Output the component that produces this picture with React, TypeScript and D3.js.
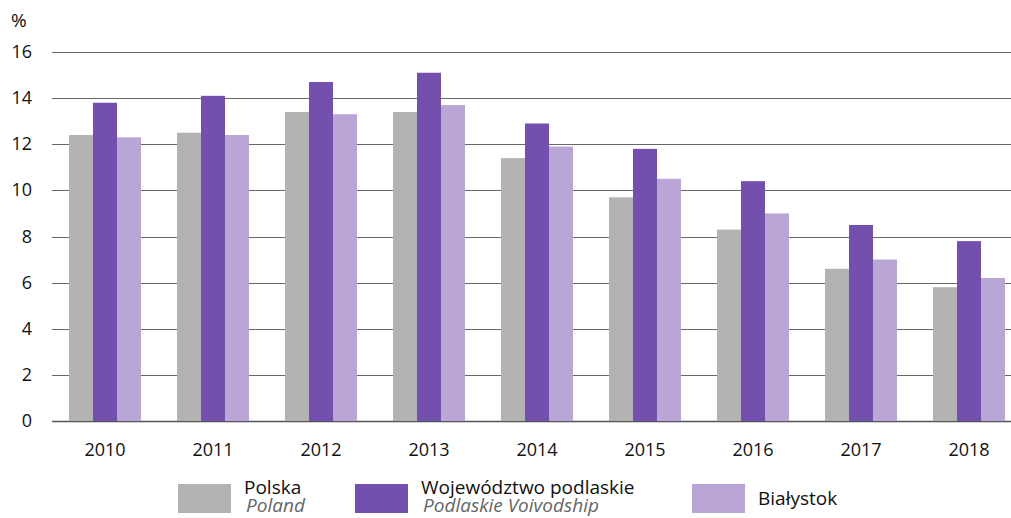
import React, { useEffect, useRef } from 'react';
import * as d3 from 'd3';

const years = ['2010', '2011', '2012', '2013', '2014', '2015', '2016', '2017', '2018'];
const polska = [12.4, 12.5, 13.4, 13.4, 11.4, 9.7, 8.3, 6.6, 5.8];
const podlaskie = [13.8, 14.1, 14.7, 15.1, 12.9, 11.8, 10.4, 8.5, 7.8];
const bialystok = [12.3, 12.4, 13.3, 13.7, 11.9, 10.5, 9.0, 7.0, 6.2];
const yTicks = [0, 2, 4, 6, 8, 10, 12, 14, 16];

const seriesNames = ['Polska', 'Województwo podlaskie', 'Białystok'];
const seriesNamesEn = ['Poland', 'Podlaskie Voivodship', ''];
const colors = ['#b3b3b3', '#7350ad', '#b9a6d6'];

const App = () => {
  const ref = useRef<SVGSVGElement>(null);

  useEffect(() => {
    const svg = d3.select(ref.current);
    svg.selectAll('*').remove();
    const font = "'Open Sans', 'Noto Sans', sans-serif";

    const x = d3.scaleBand().domain(years).range([51, 1023]).paddingInner(0.3334).paddingOuter(0.1667);
    const y = d3.scaleLinear().domain([0, 16]).range([421, 52]);
    const x1 = d3.scaleBand().domain(['0', '1', '2']).range([0, x.bandwidth()]);

    // gridlines
    svg.append('g')
      .selectAll('line')
      .data(yTicks)
      .enter()
      .append('line')
      .attr('x1', 52)
      .attr('x2', 1011)
      .attr('y1', d => Math.round(y(d)) + 0.5)
      .attr('y2', d => Math.round(y(d)) + 0.5)
      .attr('stroke', d => (d === 0 ? '#555' : '#666'))
      .attr('stroke-width', d => (d === 0 ? 1.5 : 1));

    // y labels
    svg.append('g')
      .selectAll('text')
      .data(yTicks)
      .enter()
      .append('text')
      .attr('x', 32)
      .attr('y', d => y(d) + 6)
      .attr('text-anchor', 'end')
      .attr('font-family', font)
      .attr('font-size', 18)
      .attr('fill', '#111')
      .text(d => d);

    svg.append('text')
      .attr('x', 11)
      .attr('y', 27)
      .attr('font-family', font)
      .attr('font-size', 19)
      .attr('fill', '#111')
      .text('%');

    const series = [polska, podlaskie, bialystok];
    const groups = svg.append('g')
      .selectAll('g')
      .data(years)
      .enter()
      .append('g')
      .attr('transform', d => `translate(${x(d)},0)`);

    groups.selectAll('rect')
      .data((d, i) => series.map((s, k) => ({ k, v: s[i] })))
      .enter()
      .append('rect')
      .attr('x', d => x1(String(d.k)) as number)
      .attr('width', x1.bandwidth())
      .attr('y', d => y(d.v))
      .attr('height', d => y(0) - y(d.v))
      .attr('fill', d => colors[d.k]);

    // x labels
    svg.append('g')
      .selectAll('text')
      .data(years)
      .enter()
      .append('text')
      .attr('x', d => (x(d) as number) + x.bandwidth() / 2)
      .attr('y', 456)
      .attr('text-anchor', 'middle')
      .attr('font-family', font)
      .attr('font-size', 18)
      .attr('fill', '#111')
      .text(d => d);

    // legend
    const legendX = [178, 355, 692];
    const legend = svg.append('g')
      .selectAll('g')
      .data(seriesNames)
      .enter()
      .append('g')
      .attr('transform', (d, i) => `translate(${legendX[i]},0)`);

    legend.append('rect')
      .attr('x', 0)
      .attr('y', 484)
      .attr('width', 53)
      .attr('height', 29)
      .attr('fill', (d, i) => colors[i]);

    legend.append('text')
      .attr('x', 66)
      .attr('y', (d, i) => (seriesNamesEn[i] ? 494 : 505))
      .attr('font-family', font)
      .attr('font-size', 19)
      .attr('fill', '#111')
      .text(d => d);

    legend.append('text')
      .attr('x', 68)
      .attr('y', 512)
      .attr('font-family', font)
      .attr('font-size', 19)
      .attr('font-style', 'italic')
      .attr('fill', '#666')
      .text((d, i) => seriesNamesEn[i]);
  }, []);

  return (
    <svg ref={ref} width={1011} height={518} style={{ position: 'absolute', left: 0, top: 0 }} />
  );
};

export default App;
